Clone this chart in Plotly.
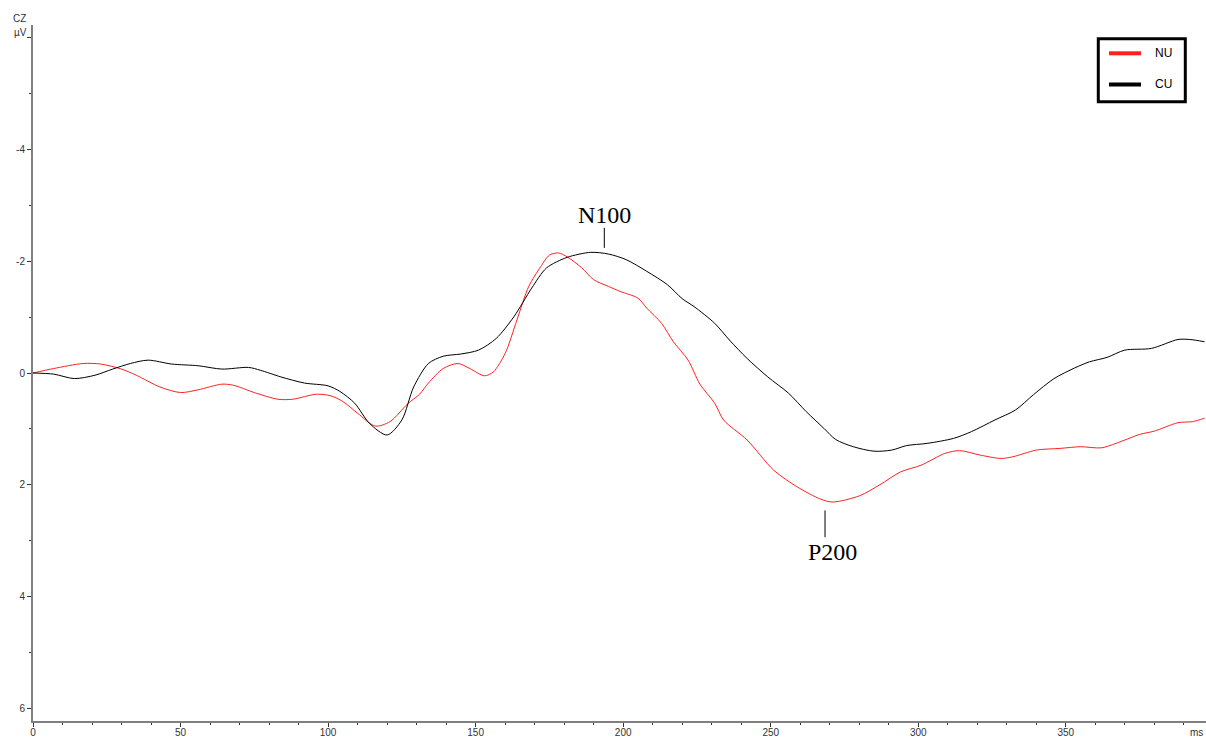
import plotly.graph_objects as go

# ---- data ----
nu_t = [0, 7, 17, 23, 30, 35, 43, 50, 56, 64,
        68, 75, 83, 88, 96, 101, 105, 110, 116, 121,
        127, 131, 134, 139, 144, 148, 153, 156, 160, 164,
        168, 172, 175, 178, 181, 186, 190, 195, 199, 205,
        208, 213, 217, 222, 226, 231, 234, 242, 251, 259,
        267, 271, 280, 287, 294, 301, 309, 314, 321, 328,
        332, 340, 348, 355, 362, 367, 375, 380, 388, 393,
        397]
nu_v = [0, -0.08, -0.17, -0.16, -0.07, 0.04, 0.25, 0.35, 0.30, 0.20,
        0.22, 0.35, 0.47, 0.47, 0.38, 0.41, 0.51, 0.72, 0.95, 0.87,
        0.55, 0.38, 0.18, -0.08, -0.17, -0.08, 0.05, -0.02, -0.35, -0.95,
        -1.55, -1.90, -2.11, -2.15, -2.08, -1.88, -1.67, -1.55, -1.46, -1.34,
        -1.16, -0.89, -0.56, -0.23, 0.20, 0.54, 0.84, 1.20, 1.74, 2.04,
        2.26, 2.31, 2.20, 2.00, 1.77, 1.65, 1.44, 1.39, 1.47, 1.53,
        1.50, 1.38, 1.35, 1.32, 1.34, 1.26, 1.10, 1.04, 0.89, 0.87,
        0.81]

cu_t = [0, 7, 14, 21, 27, 33, 39, 47, 56, 64,
        73, 77, 84, 92, 100, 104, 109, 114, 120, 125,
        129, 134, 139, 145, 151, 157, 163, 169, 174, 181,
        189, 195, 201, 208, 215, 220, 224, 231, 236, 242,
        249, 256, 262, 268, 272, 278, 285, 291, 296, 303,
        312, 318, 326, 333, 339, 346, 353, 358, 364, 370,
        379, 388, 392, 397]
cu_v = [0, 0.02, 0.10, 0.04, -0.07, -0.17, -0.23, -0.16, -0.13, -0.07,
        -0.10, -0.05, 0.07, 0.18, 0.23, 0.33, 0.54, 0.90, 1.11, 0.84,
        0.25, -0.17, -0.30, -0.34, -0.41, -0.62, -1.01, -1.52, -1.88, -2.07,
        -2.16, -2.13, -2.03, -1.82, -1.58, -1.33, -1.19, -0.89, -0.59, -0.26,
        0.07, 0.36, 0.69, 0.99, 1.19, 1.32, 1.40, 1.38, 1.30, 1.26,
        1.17, 1.05, 0.84, 0.66, 0.39, 0.10, -0.09, -0.20, -0.28, -0.41,
        -0.44, -0.60, -0.60, -0.56]

series_names = ["NU", "CU"]
series_colors = ["#ff2020", "#000000"]

y_tickvals = [-6, -4, -2, 0, 2, 4, 6]
y_ticktext = ["", "-4", "-2", "0", "2", "4", "6"]
x_tickvals = [0, 50, 100, 150, 200, 250, 300, 350]

peak_labels = ["N100", "P200"]
peak_times = [193.6, 268.4]

W, H = 1206, 738
ML, MR, MT, MB = 33, 0, 25, 17
PW, PH = W - ML - MR, H - MT - MB


def px(x):
    return (x - ML) / PW


def py(y):
    return (H - MB - y) / PH


fig = go.Figure()
fig.add_trace(go.Scatter(x=nu_t, y=nu_v, mode="lines", name=series_names[0],
                         line=dict(color=series_colors[0], width=1, shape="spline", smoothing=0.8)))
fig.add_trace(go.Scatter(x=cu_t, y=cu_v, mode="lines", name=series_names[1],
                         line=dict(color=series_colors[1], width=1, shape="spline", smoothing=0.8)))

# peak markers (tick + label) in data coordinates
peak_geom = [(-2.24, -2.6, -2.83, 0.0), (2.46, 2.94, 3.21, 2.4)]
for label, t, (y0, y1, yt, dx) in zip(peak_labels, peak_times, peak_geom):
    fig.add_shape(type="line", xref="x", yref="y", x0=t, x1=t, y0=y0, y1=y1,
                  line=dict(color="black", width=1))
    fig.add_annotation(x=t + dx, y=yt, xref="x", yref="y", text=label, showarrow=False,
                       font=dict(family="Liberation Serif", size=24, color="black"))

# legend box drawn like the original software's legend
fig.add_shape(type="rect", xref="paper", yref="paper",
              x0=px(1098.3), x1=px(1185.3), y0=py(38.7), y1=py(101.8),
              line=dict(color="black", width=3), fillcolor="white", layer="above")
for i, (nm, col) in enumerate(zip(series_names, series_colors)):
    yy = [53.3, 84.5][i]
    fig.add_shape(type="line", xref="paper", yref="paper",
                  x0=px(1109), x1=px(1141), y0=py(yy), y1=py(yy),
                  line=dict(color=col, width=4), layer="above")
    fig.add_annotation(x=px(1153), y=py(yy), xref="paper", yref="paper", text=nm,
                       showarrow=False, xanchor="left", yanchor="middle",
                       font=dict(family="Liberation Sans", size=12, color="black"))

fig.add_annotation(x=px(28), y=py(18), xref="paper", yref="paper", text="CZ", showarrow=False,
                   xanchor="right", yanchor="middle", font=dict(family="Liberation Sans", size=10, color="#333"))
fig.add_annotation(x=px(29), y=py(32), xref="paper", yref="paper", text="µV", showarrow=False,
                   xanchor="right", yanchor="middle", font=dict(family="Liberation Sans", size=10, color="#333"))
fig.add_annotation(x=px(1205), y=py(732), xref="paper", yref="paper", text="ms", showarrow=False,
                   xanchor="right", yanchor="middle", font=dict(family="Liberation Sans", size=10, color="#333"))

fig.update_layout(
    width=W, height=H,
    margin=dict(l=ML, r=MR, t=MT, b=MB, pad=0),
    paper_bgcolor="white", plot_bgcolor="white",
    font=dict(family="Liberation Sans", size=10, color="#333"),
    showlegend=False,
    xaxis=dict(range=[0, 397.5], showgrid=False, zeroline=False,
               showline=True, linecolor="#7f7f7f", linewidth=2,
               tickmode="array", tickvals=x_tickvals, ticks="outside", ticklen=4,
               tickcolor="#333", tickwidth=1, ticklabelstandoff=-3,
               minor=dict(dtick=10, tick0=0, ticks="outside", ticklen=2, tickcolor="#333"),
               tickfont=dict(size=10, color="#333"), automargin=False),
    yaxis=dict(range=[6.23, -6.23], showgrid=False, zeroline=False,
               showline=True, linecolor="#7f7f7f", linewidth=2,
               tickmode="array", tickvals=y_tickvals, ticktext=y_ticktext,
               ticks="outside", ticklen=4, tickcolor="#333", tickwidth=1,
               minor=dict(dtick=1, tick0=0, ticks="outside", ticklen=2, tickcolor="#333"),
               tickfont=dict(size=10, color="#333"), automargin=False),
)

fig.write_html("out.html")
